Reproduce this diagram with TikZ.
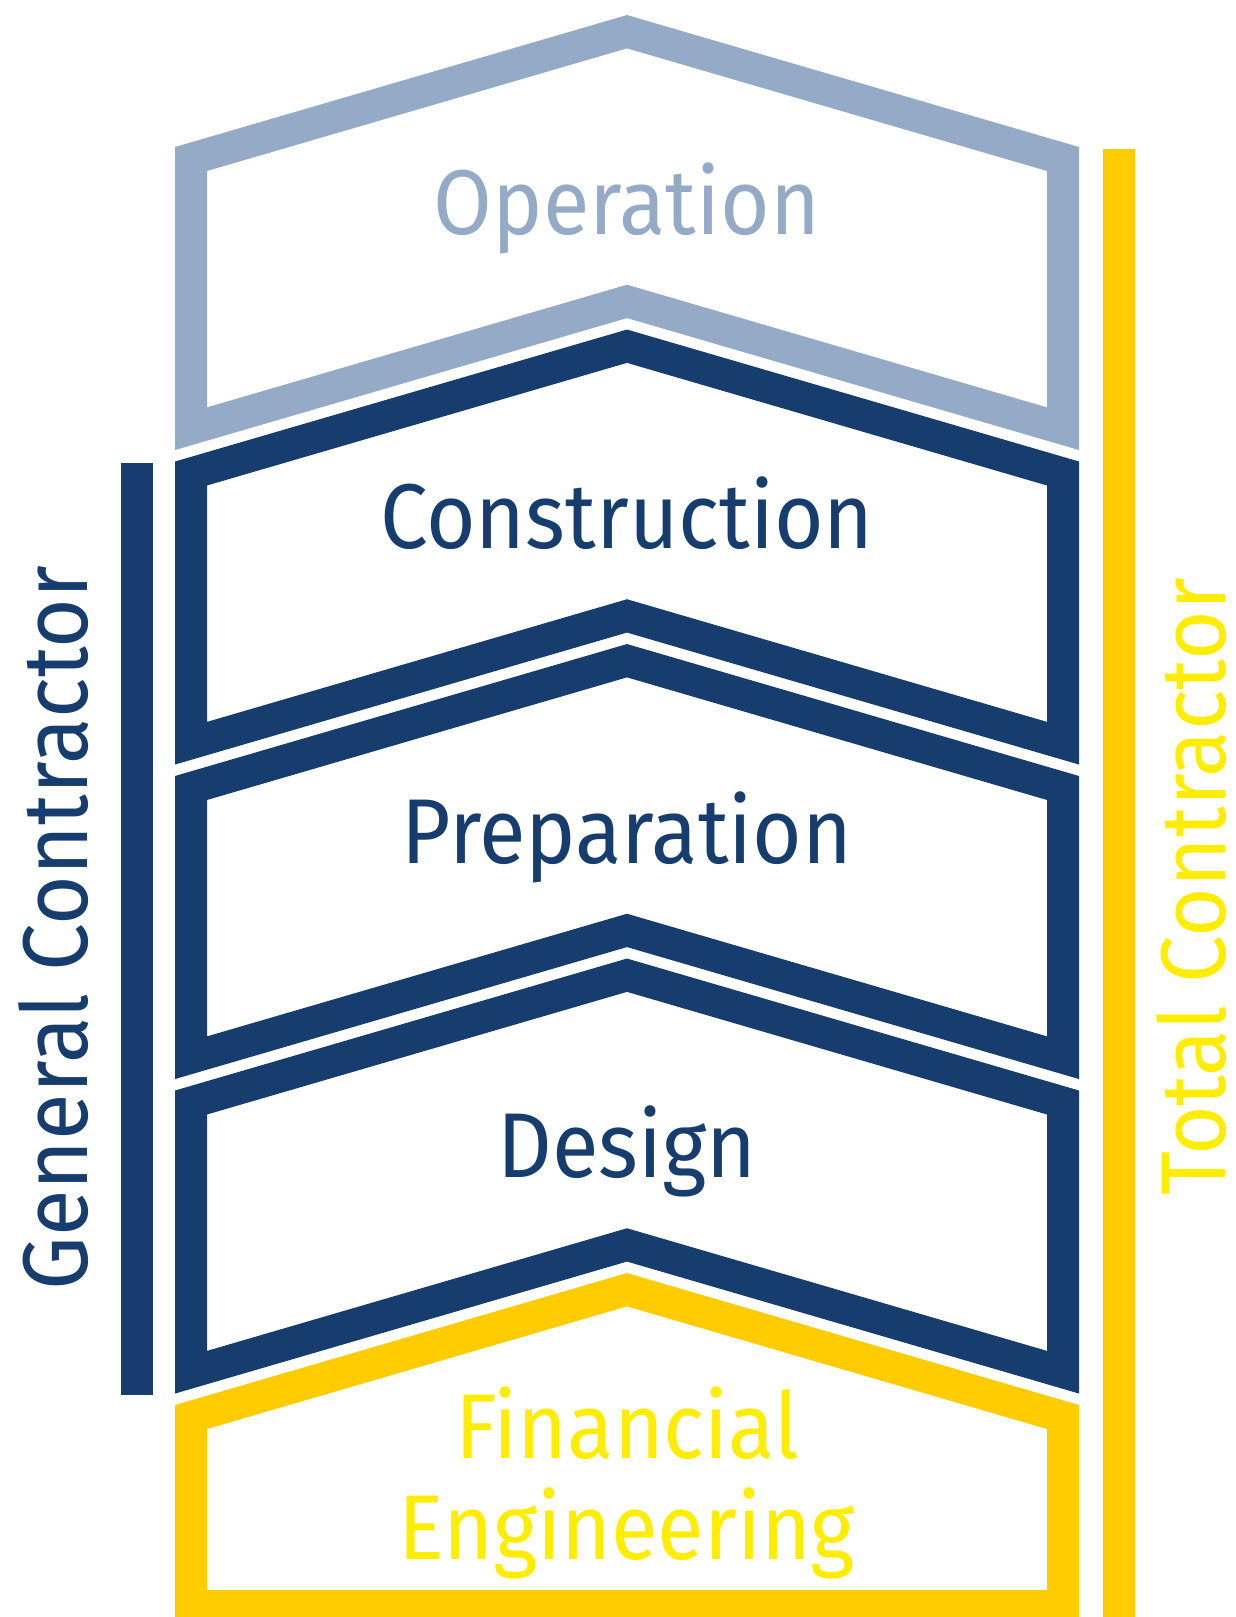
\documentclass[tikz,border=0pt]{standalone}
\usepackage{fontspec}
\setmainfont[FakeStretch=0.925]{Fira Sans}
\definecolor{opblue}{RGB}{149,170,198}
\definecolor{navy}{RGB}{22,61,110}
\definecolor{baryellow}{RGB}{255,204,0}
\definecolor{txtyellow}{RGB}{255,237,0}
\begin{document}
\begin{tikzpicture}[x=0.5pt,y=-0.5pt,line join=miter,
  band/.style={line width=16pt},
  lbl/.style={font=\fontsize{46}{50}\selectfont, anchor=base, inner sep=0pt}]
\useasboundingbox (0,0) rectangle (1236,1617);
% chevrons
\foreach \s/\c in {0/opblue, 314.5/navy, 629/navy, 943.5/navy}{
  \draw[band, draw=\c] (191,{159+\s}) -- (627,{31.7+\s}) -- (1063,{159+\s})
     -- (1063,{428.7+\s}) -- (627,{301.4+\s}) -- (191,{428.7+\s}) -- cycle;
}
% financial engineering house
\draw[band, draw=baryellow] (191,1606) -- (191,1417) -- (627,1289.7) -- (1063,1417) -- (1063,1606) -- cycle;
% side bars
\fill[navy] (120.6,463) rectangle (152.6,1395);
\fill[baryellow] (1103,148.5) rectangle (1135,1630);
% labels
\node[lbl, text=opblue] (op) at (627,234) {Operation};
\node[lbl, text=navy] (con) at (627,548.5) {Construction};
\node[lbl, text=navy] (prep) at (627,863) {Preparation};
\node[lbl, text=navy] (des) at (627,1177.5) {Design};
\node[lbl, text=txtyellow] (fin1) at (627,1458) {Financial};
\node[lbl, text=txtyellow] (fin2) at (627,1559) {Engineering};
\node[lbl, text=navy, rotate=90] (gc) at (87.6,928) {General Contractor};
\node[lbl, text=txtyellow, rotate=90, text depth=0pt] (tc) at (1225,886.6) {Total Contractor};
\end{tikzpicture}
\end{document}
